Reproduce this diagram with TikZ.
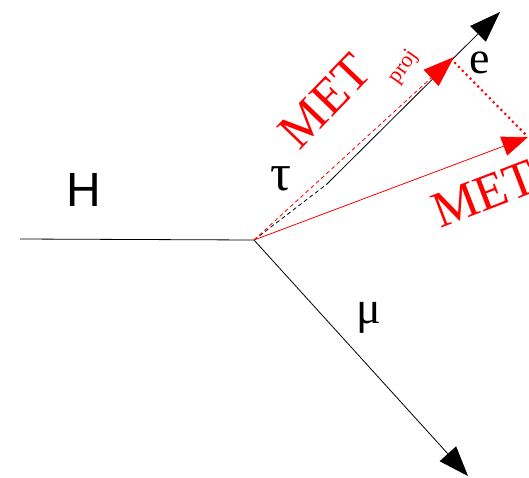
\documentclass[tikz,border=0pt]{standalone}
\usepackage{fontspec}
\setmainfont{Liberation Serif}
\newfontfamily\hsans{Liberation Sans}
\usetikzlibrary{arrows.meta}
\begin{document}
\begin{tikzpicture}[x=1pt,y=-1pt,
  thinline/.style={line width=0.8pt},
  bighead/.style={-{Triangle[length=31pt,width=22pt]}},
  lbl/.style={inner sep=0pt,font=\fontsize{44}{44}\selectfont},
  redlbl/.style={lbl,text=red,font=\fontsize{51}{51}\selectfont}]
\useasboundingbox (0,0) rectangle (529,477);
\coordinate (hs) at (20,239);
\coordinate (v) at (254,240);
\coordinate (ed) at (327,184);
\coordinate (et) at (500,12);
\coordinate (pt) at (454,57);
\coordinate (ps) at (455,63);
\coordinate (mt) at (528,137);
\coordinate (mu) at (468,476);
% H line
\draw[thinline] (hs) -- (v);
% electron
\draw[thinline,dash pattern=on 4pt off 3pt] (v) -- (ed);
\draw[thinline,bighead] (ed) -- (et);
% muon
\draw[thinline,-{Triangle[length=30pt,width=22pt]}] (v) -- (mu);
% MET proj
\draw[thinline,red,dash pattern=on 4pt off 3pt,-{Triangle[length=31pt,width=22pt]}] (v) -- (pt);
% MET
\draw[thinline,red,-{Triangle[length=26pt,width=20pt]}] (v) -- (mt);
% projection
\draw[red,line width=3pt,dash pattern=on 0pt off 5.5pt,line cap=round] (ps) -- (mt);
% labels
\node[lbl,font=\hsans\fontsize{48}{48}\selectfont] (H) at (84,190) {H};
\node[lbl,font=\fontsize{52}{52}\selectfont] (tau) at (281,179) {τ};
\node[lbl,font=\fontsize{46}{46}\selectfont] (e) at (480,63) {e};
\node[lbl,font=\fontsize{46}{46}\selectfont] (muL) at (369,318) {μ};
\node[redlbl,rotate=46] (met1) at (325,101) {MET};
\node[redlbl,font=\fontsize{22}{22}\selectfont,rotate=55] (proj) at (404,67) {proj};
\node[redlbl,rotate=21,anchor=base west] (met2) at (440,229) {MET};
\end{tikzpicture}
\end{document}
